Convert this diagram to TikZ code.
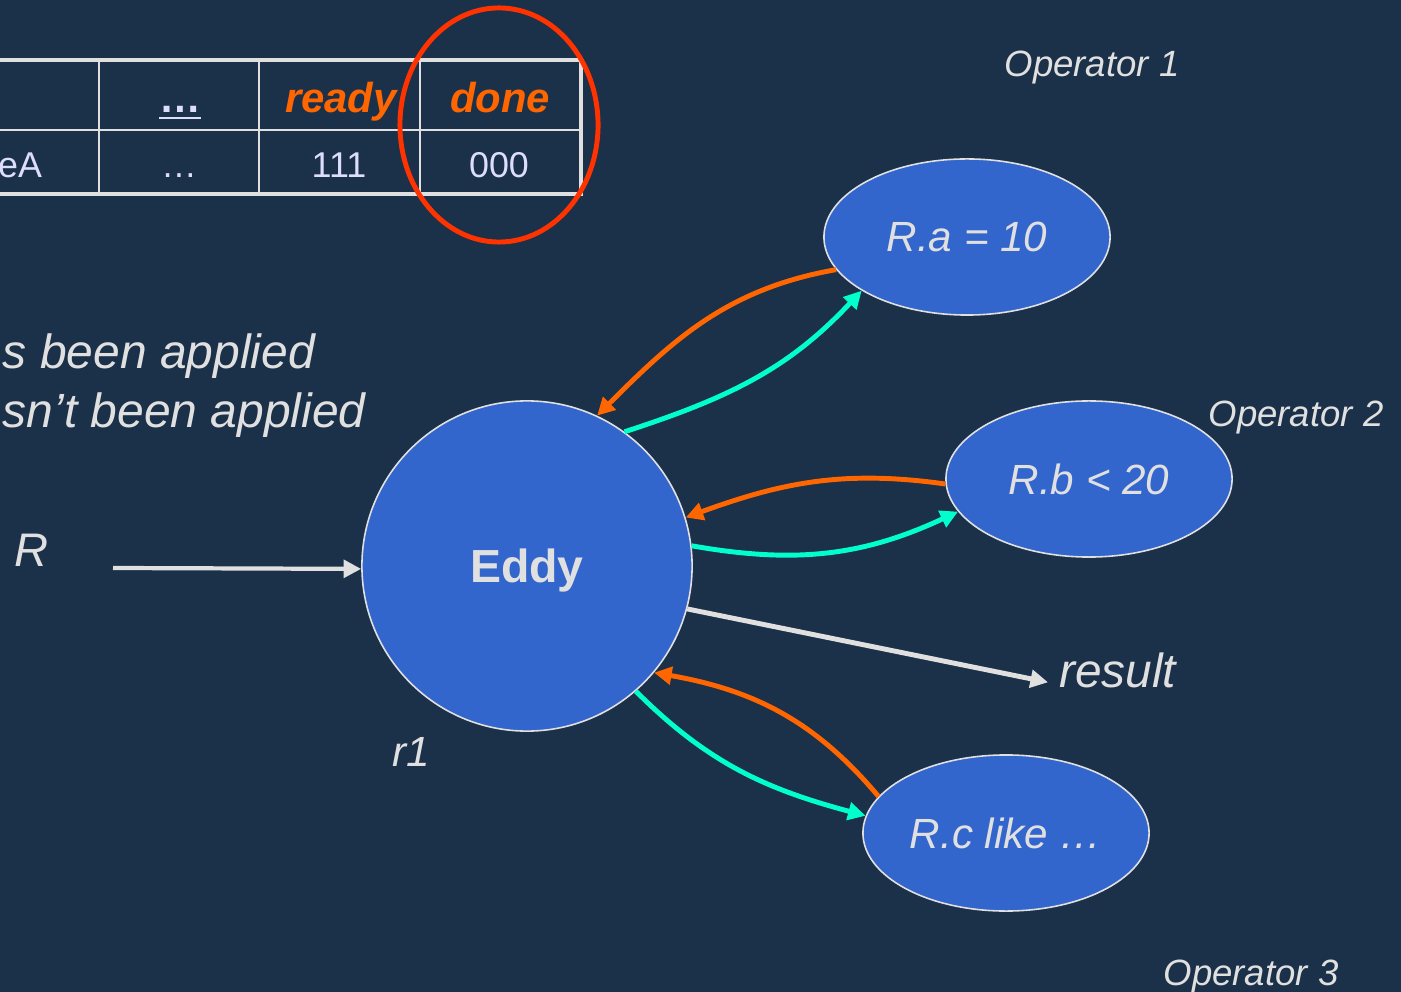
\documentclass[tikz,border=0pt]{standalone}
\usepackage{fontspec}
\setmainfont{Liberation Sans}
\usetikzlibrary{shapes.geometric,arrows.meta}

\definecolor{bg}{HTML}{1B3049}
\definecolor{opfill}{HTML}{3366CC}
\definecolor{ink}{HTML}{E0E0E0}
\definecolor{lav}{HTML}{DDDDFF}
\definecolor{backclr}{HTML}{FF6600}
\definecolor{fwdclr}{HTML}{00FFCC}
\definecolor{ringclr}{HTML}{FF3300}

\tikzset{
  op/.style={ellipse, draw=ink, line width=0.45pt, fill=opfill, inner sep=0pt,
    minimum width=2.86cm, minimum height=1.56cm, text=ink,
    font=\fontsize{12pt}{14pt}\selectfont\itshape},
  lbl/.style={text=ink, anchor=base, inner sep=0pt,
    font=\fontsize{10.4pt}{12pt}\selectfont\itshape},
  cell/.style={text=lav, anchor=base, inner sep=0pt,
    font=\fontsize{10.2pt}{12pt}\selectfont},
  head/.style={text=backclr, anchor=base, inner sep=0pt,
    font=\fontsize{11.9pt}{14pt}\selectfont\bfseries\itshape},
  back/.style={backclr, line width=1.4pt, -{Triangle[length=5pt,width=5pt]}},
  fwd/.style={fwdclr, line width=1.4pt, -{Triangle[length=5pt,width=5pt]}},
  plain/.style={ink, line width=1.4pt, -{Triangle[length=5pt,width=5pt]}}
}

\begin{document}
\begin{tikzpicture}[x=0.01cm, y=-0.01cm]
  \useasboundingbox (0,0) rectangle (1401,992);
  \fill[bg] (0,0) rectangle (1401,992);
  \clip (0,0) rectangle (1401,992);

  % table
  \draw[ink, line width=0.6pt]
    (99,60) -- (99,194) (259,60) -- (259,194) (420,60) -- (420,194)
    (-20,130) -- (581,130);
  \draw[ink, line width=1.4pt] (-20,60) rectangle (581,194);
  \node[cell, font=\fontsize{11.9pt}{14pt}\selectfont\bfseries] (hdots) at (180,113) {\underline{…}};
  \node[head] (hready) at (341,113) {ready};
  \node[head] (hdone) at (500,113) {done};
  \node[cell] (cname) at (20,178) {eA};
  \node[cell] (cdots) at (179,178) {…};
  \node[cell] (cready) at (339,178) {111};
  \node[cell] (cdone) at (499,178) {000};
  \draw[ringclr, line width=1.4pt] (499,125) ellipse [x radius=0.99cm, y radius=1.17cm];

  % notes
  \node[lbl, anchor=base west, font=\fontsize{13.65pt}{15pt}\selectfont\itshape] (applied) at (2,369) {s been applied};
  \node[lbl, anchor=base west, font=\fontsize{13.65pt}{15pt}\selectfont\itshape] (notapplied) at (2,428) {sn’t been applied};

  % eddy and operators
  \node[circle, draw=ink, line width=0.45pt, fill=opfill, minimum size=3.3cm, inner sep=0pt,
    text depth=0pt, text=ink, font=\fontsize{13.2pt}{15pt}\selectfont\bfseries] (eddy) at (527,566) {Eddy};
  \node[op] (ra) at (967,237) {R.a = 10};
  \node[op] (rb) at (1089,479) {R.b < 20};
  \node[op] (rc) at (1006,833) {R.c like …};

  \node[lbl] (op1) at (1092,77) {Operator 1};
  \node[lbl] (op2) at (1296,427) {Operator 2};
  \node[lbl] (op3) at (1251,985) {Operator 3};
  \node[lbl, font=\fontsize{13.4pt}{15pt}\selectfont\itshape] (rin) at (32,567) {R};
  \node[lbl, font=\fontsize{12pt}{14pt}\selectfont\itshape] (r1) at (411,766) {r1};
  \node[text=ink, anchor=west, inner xsep=3pt, inner ysep=0pt,
    font=\fontsize{13.6pt}{15pt}\selectfont\itshape] (result) at (1048,670) {result};

  \coordinate (rstart) at (113,568);
  \draw[plain, line width=1.2pt] (rstart) -- (eddy.181);

  \draw[back] (ra.194) to[out=190, in=45] (eddy.65);
  \draw[fwd] (eddy.54) to[out=18, in=227] (ra.207);
  \draw[back] (rb.182) to[out=172, in=20] (eddy.17);
  \draw[fwd] (eddy.7) to[out=-10, in=205] (rb.194);
  \draw[plain] (eddy.-15) -- (result.190);
  \draw[back] (rc.164) to[out=130, in=-10] (eddy.-40);
  \draw[fwd] (eddy.-49) to[out=-45, in=165] (rc.173);
\end{tikzpicture}
\end{document}
